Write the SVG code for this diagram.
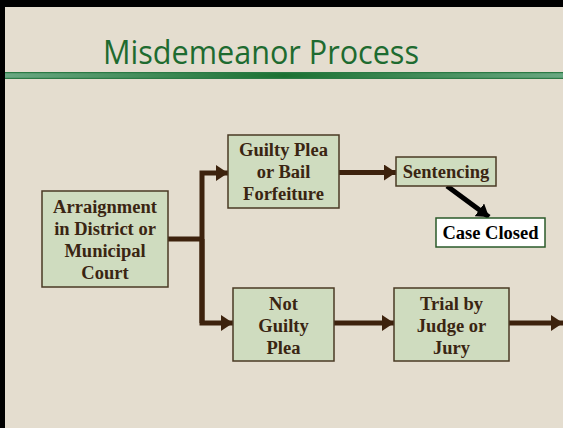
<svg xmlns="http://www.w3.org/2000/svg" width="563" height="428" viewBox="0 0 563 428">
<style>
.box{fill:#cfdcbf;stroke:#4a3a24;stroke-width:1.5}
.t{font-family:"Liberation Serif","Times New Roman",serif;font-weight:bold;font-size:18.5px;fill:#3a2512;text-anchor:middle}
.c{fill:none;stroke:#3d220d;stroke-width:5}
</style>
<defs>
<linearGradient id="band" x1="0" y1="0" x2="1" y2="0">
<stop offset="0" stop-color="#6aa882"/>
<stop offset="0.5" stop-color="#1b7132"/>
<stop offset="1" stop-color="#6aa882"/>
</linearGradient>
<marker id="ah" markerUnits="userSpaceOnUse" markerWidth="14" markerHeight="16" refX="12" refY="8" orient="auto">
<path d="M0,0 L12,8 L0,16 Z" fill="#3d220d"/>
</marker>
<marker id="ahk" markerUnits="userSpaceOnUse" markerWidth="14" markerHeight="16" refX="12" refY="8" orient="auto">
<path d="M0,0 L12,8 L0,16 Z" fill="#000"/>
</marker>
</defs>
<rect x="0" y="0" width="563" height="428" fill="#e4ddcf"/>
<rect x="0" y="0" width="563" height="7" fill="#000"/>
<rect x="0" y="0" width="5" height="428" fill="#000"/>
<g id="title">
<rect x="5" y="72" width="558" height="7" fill="url(#band)"/>
<rect x="5" y="72" width="558" height="1.2" fill="#2b7a45"/>
<rect x="5" y="77.8" width="558" height="1.2" fill="#2b7a45"/>
<text x="261" y="64" font-family="'Open Sans','DejaVu Sans',sans-serif" font-size="33" fill="#1e6b30" text-anchor="middle" textLength="316" lengthAdjust="spacingAndGlyphs">Misdemeanor Process</text>
</g>
<g id="connectors">
<polyline class="c" points="168,239 202,239"/>
<polyline class="c" points="202,323 202,173 228,173" marker-end="url(#ah)"/>
<polyline class="c" points="202,239 202,323 233,323" marker-end="url(#ah)"/>
<line class="c" x1="339" y1="172.5" x2="396" y2="172.5" marker-end="url(#ah)"/>
<line class="c" x1="334" y1="323" x2="394" y2="323" marker-end="url(#ah)"/>
<line class="c" x1="509" y1="323" x2="563" y2="323" marker-end="url(#ah)"/>
<line x1="447" y1="186" x2="489" y2="217" stroke="#000" stroke-width="5" marker-end="url(#ahk)"/>
</g>
<g id="arraignment">
<rect class="box" x="42" y="191" width="126" height="96"/>
<text class="t" x="105" y="213">Arraignment</text>
<text class="t" x="105" y="235">in District or</text>
<text class="t" x="105" y="257">Municipal</text>
<text class="t" x="105" y="279">Court</text>
</g>
<g id="guilty">
<rect class="box" x="228" y="135" width="111" height="73"/>
<text class="t" x="283.5" y="155.5">Guilty Plea</text>
<text class="t" x="283.5" y="177.5">or Bail</text>
<text class="t" x="283.5" y="199.5">Forfeiture</text>
</g>
<g id="sentencing">
<rect class="box" x="396" y="157" width="100" height="29"/>
<text class="t" x="446" y="178">Sentencing</text>
</g>
<g id="caseclosed">
<rect x="436" y="218" width="109" height="29" fill="#fff" stroke="#2a5a2a" stroke-width="1.5"/>
<text class="t" x="490.5" y="238.5" style="fill:#000">Case Closed</text>
</g>
<g id="notguilty">
<rect class="box" x="233" y="288" width="101" height="73"/>
<text class="t" x="283.5" y="309.5">Not</text>
<text class="t" x="283.5" y="331.5">Guilty</text>
<text class="t" x="283.5" y="353.5">Plea</text>
</g>
<g id="trial">
<rect class="box" x="394" y="288" width="115" height="73"/>
<text class="t" x="451.5" y="309.5">Trial by</text>
<text class="t" x="451.5" y="331.5">Judge or</text>
<text class="t" x="451.5" y="353.5">Jury</text>
</g>
</svg>
